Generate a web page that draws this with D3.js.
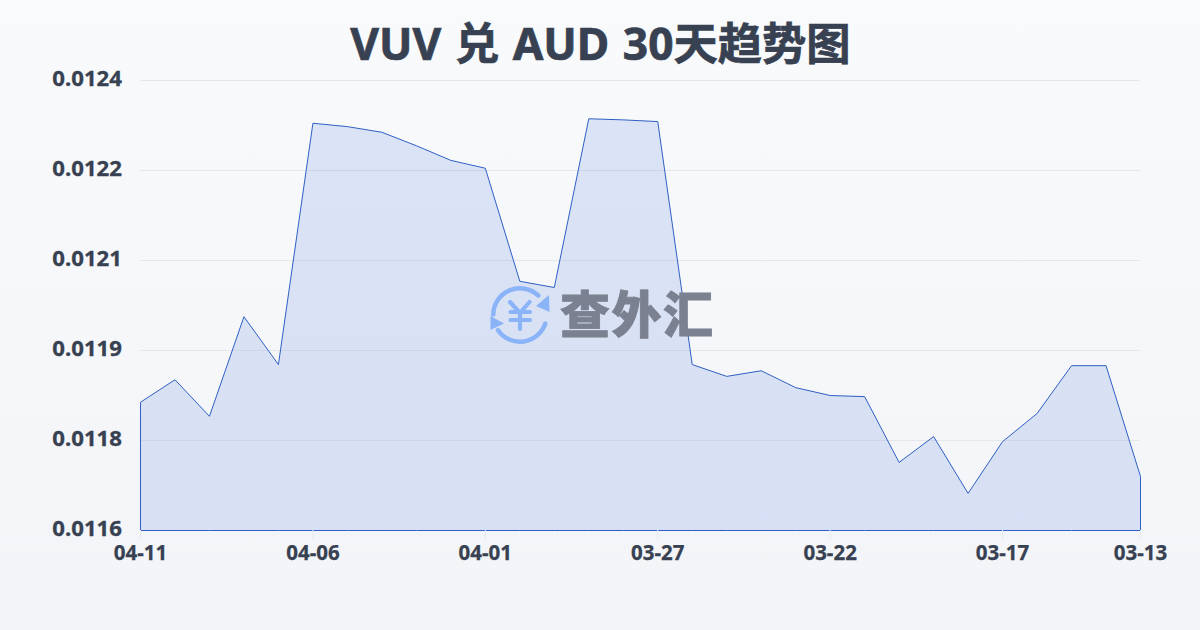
<!DOCTYPE html>
<html><head><meta charset="utf-8">
<script src="https://cdn.jsdelivr.net/npm/d3@7/dist/d3.min.js"></script>
<style>html,body{margin:0;padding:0;background:#f8fafc}svg{display:block}
text{font-family:"Noto Sans","Noto Sans CJK SC",sans-serif;font-weight:700}</style></head>
<body><svg id="c" width="1200" height="630"></svg>
<script>
const titleText = "VUV 兑 AUD 30天趋势图";
const watermarkText = "查外汇";
const dates = ["04-11","04-10","04-09","04-08","04-07","04-06","04-05","04-04","04-03","04-02","04-01","03-31","03-30","03-29","03-28","03-27","03-26","03-25","03-24","03-23","03-22","03-21","03-20","03-19","03-18","03-17","03-16","03-15","03-14","03-13"];
const rates = [0.011828,0.011868,0.011803,0.011980,0.011895,0.012324,0.012318,0.012308,0.012284,0.012258,0.012244,0.012043,0.012032,0.012332,0.012330,0.012327,0.011895,0.011874,0.011884,0.011854,0.011840,0.011838,0.011721,0.011767,0.011666,0.011758,0.011808,0.011893,0.011893,0.011696];
const yTicks = [0.0116,0.01176,0.01192,0.01208,0.01224,0.0124];
const xTicks = ["04-11","04-06","04-01","03-27","03-22","03-17","03-13"];

const svg = d3.select("#c");
const defs = svg.append("defs");
const bg = defs.append("linearGradient").attr("id","bg").attr("x1",0).attr("y1",0).attr("x2",0).attr("y2",1);
bg.append("stop").attr("offset",0).attr("stop-color","#f8fafc");
bg.append("stop").attr("offset",1).attr("stop-color","#f2f4f7");
svg.append("rect").attr("width",1200).attr("height",630).attr("fill","url(#bg)");

const x = d3.scalePoint().domain(dates).range([140,1140]);
const y = d3.scaleLinear().domain([0.0116,0.0124]).range([530,80]);

svg.append("text").attr("x",600.5).attr("y",60).attr("text-anchor","middle")
  .attr("font-size",44.3).attr("word-spacing",2).attr("fill","#374151")
  .attr("stroke","#374151").attr("stroke-width",0.7).text(titleText);

const gy = svg.append("g").attr("transform","translate(140,0)")
  .call(d3.axisLeft(y).tickValues(yTicks).tickSize(-1000).tickPadding(18).tickFormat(d3.format(".4f")));
gy.select(".domain").remove();
gy.selectAll("line").attr("stroke","#e5e7eb").attr("stroke-width",1);
gy.selectAll("text").attr("font-size",22.2).attr("fill","#374151").attr("stroke","#374151").attr("stroke-width",0.3)
  .attr("font-family",null).attr("dy","0.23em");

const area = d3.area().x((d,i)=>x(dates[i])).y0(y(0.0116)).y1(d=>y(d));
svg.append("path").datum(rates).attr("d",area).attr("transform","translate(0.5,0.5)")
  .attr("fill","#2f66dc").attr("fill-opacity",0.14)
  .attr("stroke","#2f5fc4").attr("stroke-width",1);

const gx = svg.append("g").attr("transform","translate(0,530)")
  .call(d3.axisBottom(x).tickValues(xTicks).tickSize(10).tickPadding(5));
gx.select(".domain").remove();
gx.selectAll("line").attr("stroke","#e8eaee");
gx.selectAll("text").attr("font-size",20.5).attr("fill","#374151").attr("stroke","#374151").attr("stroke-width",0.25).attr("font-family",null);

// watermark logo
const blue = "#8bb4f8";
const icon = svg.append("g").attr("transform","translate(520,315)");
const ring = d3.arc().innerRadius(24.5).outerRadius(29).cornerRadius(2.2);
const deg = Math.PI/180;
[[-94,48],[104,240]].forEach(a=>{
  icon.append("path").attr("d",ring.startAngle(a[0]*deg).endAngle(a[1]*deg)()).attr("fill",blue);
});
icon.append("path").attr("d",d3.line()([[29,-20],[29.5,-3],[16,-9]])+"Z").attr("fill",blue);
icon.append("path").attr("d",d3.line()([[-29.5,1],[-29.5,15],[-16,8.5]])+"Z").attr("fill",blue);
const yen = [[[-10,-13],[0,-2],[9.5,-13]],[[-9.5,-3],[10,-3]],[[-9.5,5],[10,5]],[[0,-2],[0,14]]];
yen.forEach(s=>icon.append("path").attr("d",d3.line()(s)).attr("fill","none").attr("stroke",blue)
  .attr("stroke-width",4.2).attr("stroke-linecap","round").attr("stroke-linejoin","round"));
svg.append("text").attr("x",560).attr("y",333).attr("font-size",50).attr("letter-spacing",1.5)
  .attr("fill","#7b8190").attr("stroke","#7b8190").attr("stroke-width",0.8)
  .attr("style","font-family:'Noto Sans CJK SC';font-weight:900").text(watermarkText);
</script></body></html>
